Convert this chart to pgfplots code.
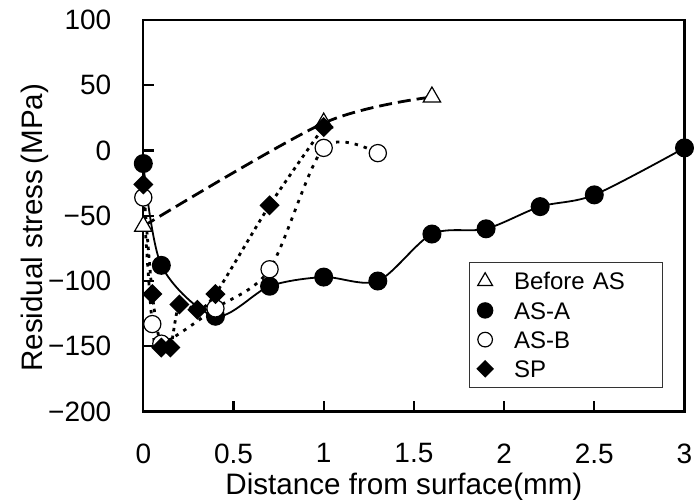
\documentclass[border=0pt]{standalone}
\usepackage{fontspec}
\setmainfont{Liberation Sans}
\usepackage{pgfplots}
\pgfplotsset{compat=1.18}

\begin{document}
\begin{tikzpicture}
\begin{axis}[name=ax, scale only axis, width=270.6pt, height=195.75pt,
  xmin=0, xmax=3, ymin=-200, ymax=100, clip=false,
  xtick={0,0.5,1,1.5,2,2.5,3}, xticklabels={0,0.5,1,1.5,2,2.5,3},
  ytick={-200,-150,-100,-50,0,50,100}, yticklabels={−200,−150,−100,−50,0,50,100},
  tick align=inside, tick pos=left, major tick length=5.5pt,
  axis line style={line width=1.1pt}, every tick/.style={black, line width=1.1pt},
  tick label style={font=\fontsize{14}{16}\selectfont},
  xticklabel shift=12.5pt, yticklabel shift=12.5pt,
  label style={font=\fontsize{14.8}{17}\selectfont},
  xlabel={Distance from surface(mm)},
  ylabel={Residual stress\,(MPa)},
  xlabel style={at={([xshift=-5pt,yshift=-27pt]axis description cs:0.5,0)}, anchor=north},
  ylabel style={at={([xshift=-54pt,yshift=-6pt]axis description cs:0,0.5)}, anchor=center},
  legend cell align=left,
  legend image code/.code={\draw[#1, only marks, every mark/.append style={scale=0.85}] plot coordinates {(0pt,0pt)};},
  legend style={at={(1,0)}, anchor=south east, xshift=-10.9pt, yshift=11.75pt,
    draw=black!80, line width=0.6pt, font=\fontsize{12}{14}\selectfont,
    inner xsep=4pt, inner ysep=5pt, row sep=6pt, column sep=10.8pt,
    nodes={inner sep=0pt, text height=8.6pt, text depth=0pt, text width=70pt, align=left}},
]
% Before AS
\addplot[black, line width=1.4pt, dash pattern=on 6.5pt off 3pt, smooth,
  mark=triangle*, mark size=5pt, mark options={solid, fill=white, line width=0.6pt}]
  coordinates {(0,-58)(1.0,21)(1.6,41)};
\addlegendentry{Before AS}
% AS-A
\addplot[black, line width=0.9pt, smooth,
  mark=*, mark size=4.3pt, mark options={solid}]
  coordinates {(0,-10)(0.1,-88)(0.4,-127)(0.7,-104)(1.0,-97)(1.3,-100)(1.6,-64)(1.9,-60)(2.2,-43)(2.5,-34)(3.0,2)};
\addlegendentry{AS-A}
% AS-B
\addplot[black, line width=1.4pt, dash pattern=on 1.7pt off 3pt, smooth,
  mark=*, mark size=4.3pt, mark options={solid, fill=white, line width=0.6pt}]
  coordinates {(0,-36)(0.05,-133)(0.1,-148)(0.4,-121)(0.7,-91)(1.0,2)(1.3,-2)};
\addlegendentry{AS-B}
% SP
\addplot[black, line width=1.4pt, dash pattern=on 1.7pt off 2.2pt, smooth,
  mark=square*, mark size=2.85pt, mark options={solid, rotate=45}]
  coordinates {(0,-26)(0.05,-110)(0.1,-151)(0.15,-151)(0.2,-118)(0.3,-122)(0.4,-110)(0.7,-42)(1.0,18)};
\addlegendentry{SP}
\end{axis}
\pgfresetboundingbox
\path (ax.south west) ++(-71.65pt,-43.75pt) rectangle ++(347pt,249.5pt);
\end{tikzpicture}
\end{document}
